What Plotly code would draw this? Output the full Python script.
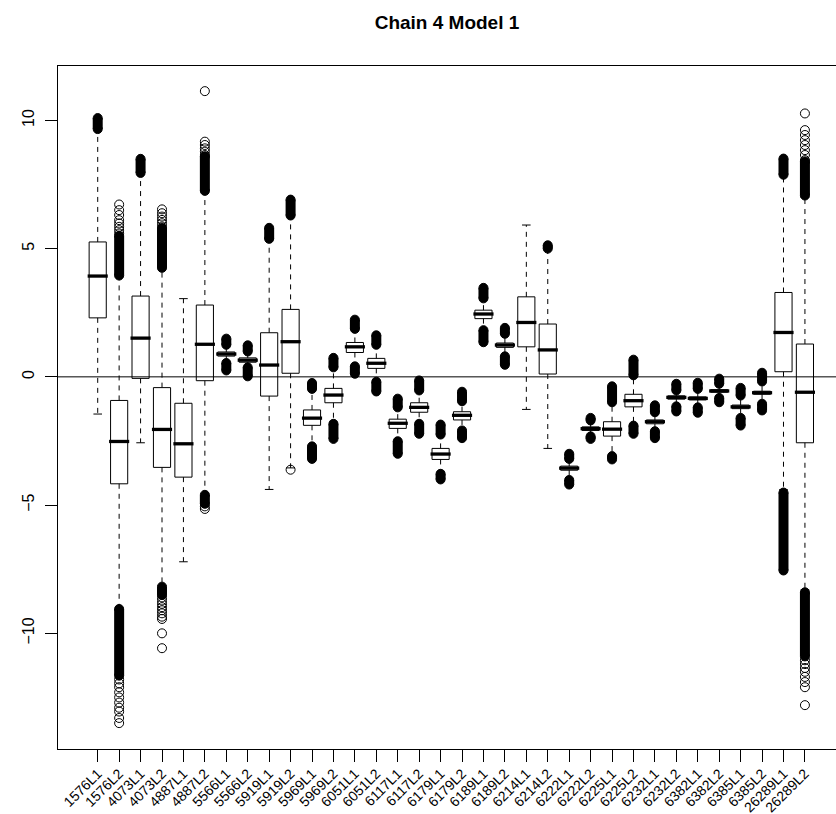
import plotly.graph_objects as go

# ---- data ---------------------------------------------------------------
labels = ["1576L1", "1576L2", "4073L1", "4073L2", "4887L1", "4887L2", "5566L1", "5566L2",
          "5919L1", "5919L2", "5969L1", "5969L2", "6051L1", "6051L2", "6117L1", "6117L2",
          "6179L1", "6179L2", "6189L1", "6189L2", "6214L1", "6214L2", "6222L1", "6222L2",
          "6225L1", "6225L2", "6232L1", "6232L2", "6382L1", "6382L2", "6385L1", "6385L2",
          "26289L1", "26289L2"]

q1 = [2.30, -4.17, -0.06, -3.53, -3.91, -0.15, 0.81, 0.57, -0.75, 0.14, -1.89, -1.01,
      0.95, 0.33, -2.01, -1.38, -3.22, -1.68, 2.27, 1.15, 1.17, 0.11, -3.64, -2.09,
      -2.31, -1.17, -1.83, -0.87, -0.90, -0.60, -1.24, -0.68, 0.20, -2.57]
median = [3.93, -2.52, 1.51, -2.05, -2.61, 1.27, 0.89, 0.65, 0.46, 1.37, -1.61, -0.71,
          1.17, 0.53, -1.81, -1.19, -3.01, -1.50, 2.45, 1.24, 2.12, 1.05, -3.56, -2.02,
          -2.04, -0.93, -1.75, -0.80, -0.84, -0.55, -1.17, -0.62, 1.73, -0.60]
q3 = [5.26, -0.92, 3.15, -0.42, -1.03, 2.80, 0.97, 0.74, 1.72, 2.63, -1.29, -0.45,
      1.34, 0.72, -1.65, -1.01, -2.79, -1.36, 2.60, 1.32, 3.12, 2.06, -3.48, -1.95,
      -1.75, -0.68, -1.68, -0.74, -0.78, -0.50, -1.10, -0.56, 3.29, 1.28]
whisker_lo = [-1.45, -9.00, -2.57, -8.14, -7.21, -4.55, 0.56, 0.40, -4.39, -3.55, -2.67, -1.80,
              0.44, -0.15, -2.47, -1.80, -3.75, -2.06, 1.85, 0.83, -1.27, -2.79, -3.97, -2.29,
              -3.05, -1.86, -2.08, -1.12, -1.16, -0.79, -1.57, -1.02, -4.40, -8.30]
whisker_hi = [9.62, 3.90, 7.90, 4.20, 3.05, 7.20, 1.22, 0.96, 5.35, 6.25, -0.50, 0.35,
              1.85, 1.22, -1.22, -0.56, -2.28, -0.98, 3.03, 1.65, 5.92, 4.95, -3.23, -1.73,
              -1.02, 0.02, -1.41, -0.56, -0.50, -0.30, -0.76, -0.21, 7.85, 7.00]

# dense runs of overlapping outliers, [from, to]; None where a side has none
upper_run = [[9.66, 10.09], [3.95, 5.50], [7.95, 8.50], [4.25, 5.80], None, [7.25, 8.60],
             [1.25, 1.49], [0.99, 1.23], [5.38, 5.81], [6.29, 6.91], [-0.47, -0.24], [0.37, 0.74],
             [1.87, 2.23], [1.25, 1.62], [-1.19, -0.85], [-0.53, -0.14], [-2.25, -1.86], [-0.95, -0.58],
             [3.06, 3.47], [1.68, 1.91], None, [5.00, 5.13], [-3.20, -3.00], [-1.70, -1.60],
             [-0.99, -0.37], [0.06, 0.67], [-1.38, -1.11], [-0.53, -0.27], [-0.47, -0.23], [-0.27, -0.07],
             [-0.73, -0.43], [-0.18, 0.16], [7.88, 8.51], [7.07, 8.40]]
lower_run = [None, [-11.65, -9.05], None, [-8.50, -8.18], None, [-4.95, -4.60],
             [0.25, 0.54], [0.02, 0.37], None, None, [-3.20, -2.71], [-2.42, -1.83],
             [0.12, 0.41], [-0.57, -0.19], [-3.00, -2.51], [-2.22, -1.83], [-4.00, -3.78], [-2.39, -2.09],
             [1.35, 1.82], [0.47, 0.80], None, None, [-4.20, -4.02], [-2.42, -2.32],
             [-3.22, -3.09], [-2.22, -1.90], [-2.39, -2.12], [-1.35, -1.15], [-1.40, -1.19], [-0.99, -0.82],
             [-1.90, -1.60], [-1.31, -1.05], [-7.55, -4.51], [-10.90, -8.40]]

# separately visible outliers
sparse_out = [
    [],
    [5.59, 5.72, 5.85, 5.98, 6.11, 6.31, 6.50, 6.72,
     -11.80, -11.95, -12.10, -12.30, -12.50, -12.70, -12.90, -13.05, -13.30, -13.50],
    [],
    [5.86, 5.99, 6.12, 6.25, 6.38, 6.53,
     -8.60, -8.72, -8.85, -8.98, -9.10, -9.22, -9.35, -9.44, -10.00, -10.58],
    [],
    [8.65, 8.78, 8.91, 9.04, 9.17, 11.14, -5.05, -5.15],
    [], [], [],
    [-3.62],
    [], [], [], [], [], [], [], [], [], [], [], [], [], [], [], [], [], [], [], [], [], [], [],
    [8.45, 8.65, 8.84, 9.04, 9.23, 9.43, 9.62, 10.27,
     -11.05, -11.20, -11.35, -11.50, -11.70, -11.90, -12.10, -12.80],
]

y_ticks = [-10, -5, 0, 5, 10]
y_tick_text = ["\u221210", "\u22125", "0", "5", "10"]

# ---- geometry of each box (in x-axis units) ------------------------------
pos = list(range(1, len(labels) + 1))
BOX_HALF = 0.4
STAPLE_HALF = 0.2
MEDIAN_HALF = 0.47
FONT = "Liberation Sans, Arial, Helvetica, sans-serif"

wx, wy = [], []      # dashed whiskers
sx, sy = [], []      # staples
bx, by = [], []      # box outlines
mx, my = [], []      # medians
rx, ry = [], []      # dense outlier runs (thick strokes)
ex, ey = [], []      # ends of dense runs
ox, oy = [], []      # single outliers

for i, p in enumerate(pos):
    wx += [p, p, None, p, p, None]
    wy += [q3[i], whisker_hi[i], None, q1[i], whisker_lo[i], None]
    sx += [p - STAPLE_HALF, p + STAPLE_HALF, None, p - STAPLE_HALF, p + STAPLE_HALF, None]
    sy += [whisker_hi[i], whisker_hi[i], None, whisker_lo[i], whisker_lo[i], None]
    bx += [p - BOX_HALF, p + BOX_HALF, p + BOX_HALF, p - BOX_HALF, p - BOX_HALF, None]
    by += [q1[i], q1[i], q3[i], q3[i], q1[i], None]
    mx += [p - MEDIAN_HALF, p + MEDIAN_HALF, None]
    my += [median[i], median[i], None]
    for run in (upper_run[i], lower_run[i]):
        if run is not None:
            rx += [p, p, None]
            ry += [run[0], run[1], None]
            ex += [p, p]
            ey += [run[0], run[1]]
    for v in sparse_out[i]:
        ox.append(p)
        oy.append(v)

fig = go.Figure()
fig.add_trace(go.Scatter(x=wx, y=wy, mode="lines", hoverinfo="skip",
                         line=dict(color="black", width=1, dash="5px,5px")))
fig.add_trace(go.Scatter(x=sx, y=sy, mode="lines", hoverinfo="skip",
                         line=dict(color="black", width=1)))
fig.add_trace(go.Scatter(x=bx, y=by, mode="lines", hoverinfo="skip",
                         line=dict(color="black", width=1)))
fig.add_trace(go.Scatter(x=mx, y=my, mode="lines", hoverinfo="skip",
                         line=dict(color="black", width=3.3)))
fig.add_trace(go.Scatter(x=rx, y=ry, mode="lines", hoverinfo="skip",
                         line=dict(color="black", width=10)))
fig.add_trace(go.Scatter(x=ex, y=ey, mode="markers", hoverinfo="skip",
                         marker=dict(symbol="circle", size=9, color="black",
                                     line=dict(color="black", width=1))))
fig.add_trace(go.Scatter(x=ox, y=oy, mode="markers", hoverinfo="skip",
                         marker=dict(symbol="circle-open", size=9, color="black",
                                     line=dict(color="black", width=1))))

# horizontal reference line at zero
fig.add_shape(type="line", xref="paper", yref="y", x0=0, x1=1, y0=0, y1=0,
              line=dict(color="black", width=1), layer="above")

fig.update_layout(
    width=836, height=814,
    margin=dict(l=58, r=0, t=66, b=65, pad=0),
    paper_bgcolor="white", plot_bgcolor="white",
    showlegend=False,
    font=dict(family=FONT, size=16, color="black"),
    title=dict(text="<b>Chain 4 Model 1</b>", font=dict(family=FONT, size=19, color="black"),
               x=447 / 836, xref="container", xanchor="center",
               y=1 - 22 / 814, yref="container", yanchor="middle"),
    xaxis=dict(range=[-0.853, 35.45], tickmode="array", tickvals=pos, ticktext=labels,
               tickangle=-45, ticks="outside", ticklen=12, tickwidth=1, tickcolor="black",
               ticklabelstandoff=-2,
               showline=True, mirror=True, linecolor="black", linewidth=1,
               showgrid=False, zeroline=False, automargin=False,
               tickfont=dict(family=FONT, size=14, color="black")),
    yaxis=dict(range=[-14.51, 12.12], tickmode="array", tickvals=y_ticks, ticktext=y_tick_text,
               tickangle=-90, ticks="outside", ticklen=12, tickwidth=1, tickcolor="black",
               ticklabelstandoff=5,
               showline=True, mirror=False, linecolor="black", linewidth=1,
               showgrid=False, zeroline=False, automargin=False,
               tickfont=dict(family=FONT, size=16, color="black")),
)

fig.write_html("out.html")
